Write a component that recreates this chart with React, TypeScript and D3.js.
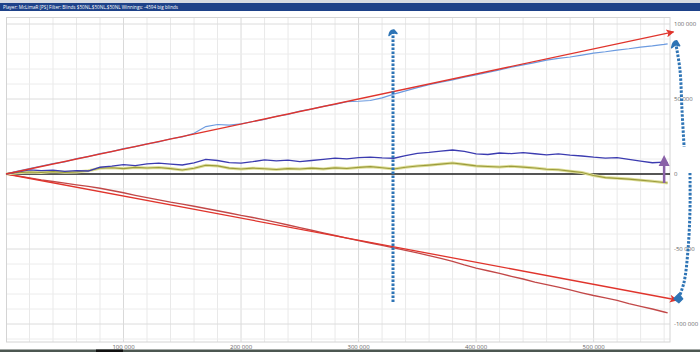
import React from 'react';
import * as d3 from 'd3';

// hands played (thousands)
const hands = [0,10,20,30,40,50,60,70,80,90,100,110,120,130,140,150,160,170,180,190,200,210,220,230,240,250,260,270,280,290,300,310,320,330,340,350,360,370,380,390,400,410,420,430,440,450,460,470,480,490,500,510,520,530,540,550,560,563];
// values in thousands of big blinds
const winnings = [0,1.9,3.6,5.2,6.9,8.1,10.2,11.6,13.6,14.9,16.9,18.2,20.1,21.4,23.5,24.8,27.2,31.6,33.0,32.6,33.4,35.0,36.4,38.5,39.8,41.9,43.2,45.1,46.4,48.3,48.5,49.0,50.8,53.2,55.4,57.6,59.6,61.3,62.7,64.6,66.1,67.8,69.4,71.2,72.8,74.3,75.9,77.1,78.0,79.3,80.6,81.5,82.6,83.5,84.6,85.4,86.4,86.8];
const allInEV = [0,1.5,2.7,2.2,2.6,1.8,2.3,2.0,4.5,5.2,6.2,5.6,6.8,7.3,6.6,6.0,7.4,9.8,9.0,7.6,7.3,8.2,9.4,8.8,9.2,8.3,9.0,9.8,10.6,10.1,10.9,11.3,10.8,10.5,12.2,13.8,14.4,15.2,16.0,15.1,13.4,13.0,14.0,13.6,14.2,13.5,12.8,13.4,12.6,12.0,11.2,10.6,10.9,9.8,8.6,7.5,7.9,7.6];
const showdown = [0,0.8,1.3,1.0,1.6,1.1,1.4,2.2,3.8,4.2,3.6,4.4,4.0,4.3,3.6,2.7,3.8,5.8,5.4,3.9,3.3,3.9,3.5,3.0,3.6,3.3,3.9,3.4,4.1,3.7,4.4,4.9,4.2,3.3,4.5,5.3,5.9,6.6,7.3,6.4,5.4,5.0,4.7,5.2,4.6,4.0,3.2,2.8,1.9,1.0,-1.0,-2.4,-2.9,-3.4,-4.1,-4.8,-5.7,-6.0];
const nonShowdown = [0,-1.3,-2.6,-3.9,-5.0,-6.1,-7.2,-8.3,-9.5,-11.0,-12.5,-14.2,-15.8,-17.3,-18.8,-20.1,-21.5,-23.0,-24.5,-26.0,-27.6,-29.0,-30.6,-32.3,-34.0,-35.8,-37.5,-39.3,-41.0,-42.8,-44.4,-46.0,-47.6,-49.2,-50.9,-52.6,-54.4,-56.3,-58.2,-60.6,-62.8,-64.5,-66.3,-68.2,-70.0,-72.1,-73.8,-75.4,-77.3,-79.2,-81.0,-82.6,-84.3,-86.4,-88.2,-90.0,-92.0,-92.6];

const xTicks = [100, 200, 300, 400, 500];
const yTicks = [100, 50, 0, -50, -100];
const titleText = 'Player: McLimaR [PS]  Filter: Blinds $50NL,$50NL,$50NL  Winnings: -4594 big blinds';

// annotation geometry in data units (thousand hands, thousand bb)
const upTrend: [number, number][] = [[0, 0], [568, 94.7]];
const downTrend: [number, number][] = [[0, 0], [571, -84]];
const verticalArrow: [number, number][] = [[329.3, -85.3], [329.3, 95]];
const rightArrowTop: [number, number][] = [[569.8, 87.5], [573.5, 69.3], [575.2, 42.7], [577, 18]];
const rightArrowBottom: [number, number][] = [[582, 0.7], [582, -24], [580.3, -50.7], [577, -72], [572.5, -82.5]];
const purpleArrow: [number, number][] = [[560, -6], [560, 12.7]];

const W = 700, H = 352;

function fmt(v: number) {
  const s = Math.abs(v * 1000).toString().replace(/\B(?=(\d{3})+(?!\d))/g, ' ');
  return (v < 0 ? '-' : '') + s;
}

export default function App() {
  const x = d3.scaleLinear().domain([0, 565]).range([6, 670]);
  const y = d3.scaleLinear().domain([-112, 104.667]).range([342, 17]);
  const line = d3.line<number>().x((_, i) => x(hands[i])).y(d => y(d));
  const pline = d3.line<[number, number]>().x(d => x(d[0])).y(d => y(d[1]));
  const cline = d3.line<[number, number]>().x(d => x(d[0])).y(d => y(d[1])).curve(d3.curveCatmullRom);

  const vGrid = d3.range(20, 565, 20);
  const hGrid = d3.range(-110, 105, 10);
  const font = '"Open Sans", "DejaVu Sans", sans-serif';
  const dotted = '#2e74b5';

  const vaX = x(verticalArrow[1][0]);
  const vaY = y(verticalArrow[1][1]);
  const paX = x(purpleArrow[1][0]);
  const paY = y(purpleArrow[1][1]);
  const rtX = x(rightArrowTop[0][0]);
  const rtY = y(rightArrowTop[0][1]);
  const rb = rightArrowBottom[rightArrowBottom.length - 1];
  const rbX = x(rb[0]);
  const rbY = y(rb[1]);

  return (
    <svg width={W} height={H} style={{ position: 'absolute', left: 0, top: 0, background: '#fff' }}>
      <defs>
        <marker id="redHead" viewBox="0 0 10 10" refX="9" refY="5" markerWidth="9" markerHeight="8" markerUnits="userSpaceOnUse" orient="auto">
          <path d="M0,0 L10,5 L0,10 L2.5,5 Z" fill="#e0342c" />
        </marker>
      </defs>
      {/* title bar */}
      <rect x={0} y={0} width={W} height={3} fill="#d6dae2" />
      <rect x={0} y={3} width={W} height={8} fill="#1d4189" />
      <text x={3} y={9} fontSize={5} fill="#fff" fontFamily={font} textLength={175} lengthAdjust="spacingAndGlyphs">{titleText}</text>

      {/* grid */}
      {vGrid.map(v => (
        <line key={'v' + v} x1={x(v)} x2={x(v)} y1={17} y2={342} stroke={v % 100 === 0 ? '#d9d9d9' : '#e9e9e9'} strokeWidth={1} />
      ))}
      {hGrid.map(v => (
        <line key={'h' + v} x1={6} x2={670} y1={y(v)} y2={y(v)} stroke={v % 50 === 0 ? '#dcdcdc' : '#ececec'} strokeWidth={1} />
      ))}
      <rect x={6.5} y={17.5} width={663.5} height={324.5} fill="none" stroke="#d4d4d4" strokeWidth={1} />

      {/* axis labels */}
      {xTicks.map(t => (
        <text key={'xt' + t} x={x(t)} y={349} fontSize={6} fill="#666" textAnchor="middle" fontFamily={font}>{fmt(t)}</text>
      ))}
      {yTicks.map(t => (
        <text key={'yt' + t} x={674} y={y(t) + 2} fontSize={6} fill="#666" fontFamily={font}>{fmt(t)}</text>
      ))}

      {/* zero line */}
      <line x1={6} x2={670} y1={y(0)} y2={y(0)} stroke="#222" strokeWidth={1.3} />

      {/* series */}
      <path d={line(nonShowdown) || ''} fill="none" stroke="#c24848" strokeWidth={1.3} />
      <path d={pline(downTrend) || ''} fill="none" stroke="#e0342c" strokeWidth={1.3} markerEnd="url(#redHead)" />
      <path d={line(showdown) || ''} fill="none" stroke="#dede9a" strokeWidth={3} />
      <path d={line(showdown) || ''} fill="none" stroke="#9c9c3c" strokeWidth={1.1} />
      <path d={line(allInEV) || ''} fill="none" stroke="#3b3bb0" strokeWidth={1.3} />
      <path d={line(winnings) || ''} fill="none" stroke="#6c9be0" strokeWidth={1.2} />
      <path d={pline(upTrend) || ''} fill="none" stroke="#e0342c" strokeWidth={1.3} markerEnd="url(#redHead)" />

      {/* vertical dotted arrow */}
      <path d={pline(verticalArrow) || ''} fill="none" stroke={dotted} strokeWidth={3} strokeDasharray="2.5 1.5" />
      <path d={`M${vaX - 4},${vaY + 4} Q${vaX - 3},${vaY - 2} ${vaX + 1},${vaY - 1.5} L${vaX + 4},${vaY + 2} L${vaX},${vaY + 1} Z`} fill={dotted} stroke={dotted} strokeWidth={1.5} strokeLinejoin="round" />

      {/* right curved dotted arrows */}
      <path d={cline(rightArrowTop) || ''} fill="none" stroke={dotted} strokeWidth={3} strokeDasharray="2.5 1.5" />
      <path d={`M${rtX - 4},${rtY + 5} Q${rtX - 3},${rtY - 2} ${rtX + 1},${rtY - 2} L${rtX + 4},${rtY + 3} L${rtX},${rtY + 2} Z`} fill={dotted} stroke={dotted} strokeWidth={1.5} strokeLinejoin="round" />
      <path d={cline(rightArrowBottom) || ''} fill="none" stroke={dotted} strokeWidth={3} strokeDasharray="2.5 1.5" />
      <path d={`M${rbX - 5},${rbY + 1} L${rbX},${rbY - 4} L${rbX + 4},${rbY + 1} L${rbX},${rbY + 5} Z`} fill={dotted} stroke={dotted} strokeWidth={1.2} strokeLinejoin="round" />

      {/* purple arrow */}
      <line x1={x(purpleArrow[0][0])} x2={paX} y1={y(purpleArrow[0][1])} y2={paY + 10} stroke="#8a62a8" strokeWidth={2.5} />
      <path d={`M${paX},${paY} L${paX + 5.5},${paY + 11} L${paX - 5.5},${paY + 11} Z`} fill="#8a62a8" />

      {/* bottom strip */}
      <rect x={0} y={349.5} width={W} height={2.5} fill="#4c5751" />
      <rect x={96} y={349.5} width={27} height={2.5} fill="#111" />
    </svg>
  );
}
